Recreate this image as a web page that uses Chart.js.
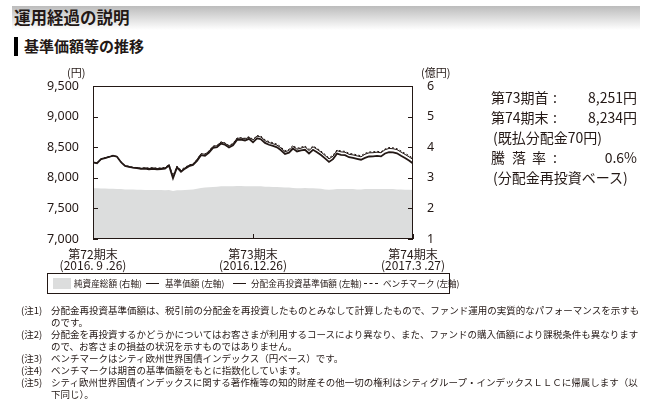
<!DOCTYPE html>
<html><head><meta charset="utf-8">
<script src="https://cdn.jsdelivr.net/npm/chart.js@4.4.1/dist/chart.umd.min.js"></script>
<style>
html,body{margin:0;padding:0;background:#fff;}
body{width:653px;height:408px;position:relative;overflow:hidden;font-family:"Noto Sans CJK JP","Noto Sans",sans-serif;color:#231815;}
.abs{position:absolute;white-space:nowrap;line-height:1;}
#titlebar{position:absolute;left:12px;top:6px;width:628px;height:24px;background:linear-gradient(to bottom,#bcbcbc,#ffffff);}
#title{left:14px;top:9px;font-size:16.5px;font-weight:bold;}
#subbar{position:absolute;left:14px;top:37px;width:4px;height:19px;background:#000;}
#subtitle{left:24px;top:38px;font-size:15px;font-weight:bold;}
#cv{position:absolute;left:0;top:0;}
.unit{font-size:11px;}
.rt{font-size:14px;}
#legend{position:absolute;left:47px;top:273px;width:401px;height:19px;border:1px solid #231815;}
.lg{font-size:8.6px;top:279px;}
.note{font-size:9.5px;}
</style></head>
<body>
<div id="titlebar"></div>
<div class="abs" id="title">運用経過の説明</div>
<div id="subbar"></div>
<div class="abs" id="subtitle">基準価額等の推移</div>
<canvas id="cv" width="653" height="408"></canvas>
<div class="abs unit" style="left:67px;top:67px;">(円)</div>
<div class="abs unit" style="left:421px;top:67px;">(億円)</div>

<div class="abs rt" style="left:491px;top:90px;">第73期首</div><div class="abs rt" style="left:553px;top:90px;">:</div><div class="abs rt" style="right:16px;top:90px;">8,251円</div>
<div class="abs rt" style="left:491px;top:110px;">第74期末</div><div class="abs rt" style="left:553px;top:110px;">:</div><div class="abs rt" style="right:16px;top:110px;">8,234円</div>
<div class="abs rt" style="left:493px;top:130px;">(既払分配金70円)</div>
<div class="abs rt" style="left:491px;top:150px;">騰</div><div class="abs rt" style="left:512px;top:150px;">落</div><div class="abs rt" style="left:532px;top:150px;">率</div><div class="abs rt" style="left:553px;top:150px;">:</div><div class="abs rt" style="right:16px;top:150px;">0.6%</div>
<div class="abs rt" style="left:493px;top:170px;">(分配金再投資ベース)</div>

<div id="legend"></div>
<div style="position:absolute;left:53px;top:278px;width:18px;height:11px;background:#dcdddd;"></div>
<div class="abs lg" style="left:74px;">純資産総額 (右軸)</div>
<div style="position:absolute;left:146px;top:283px;width:13px;height:1px;background:#231815;"></div>
<div class="abs lg" style="left:165px;">基準価額 (左軸)</div>
<div style="position:absolute;left:233px;top:283px;width:13px;height:1px;background:#231815;"></div>
<div class="abs lg" style="left:251px;">分配金再投資基準価額 (左軸)</div>
<div style="position:absolute;left:364px;top:283px;width:14px;height:0;border-top:1px dashed #231815;"></div>
<div class="abs lg" style="left:383px;">ベンチマーク (左軸)</div>

<div class="abs note" style="left:21px;top:306px;">(注1)</div>
<div class="abs note" style="left:51px;top:306px;">分配金再投資基準価額は、税引前の分配金を再投資したものとみなして計算したもので、ファンド運用の実質的なパフォーマンスを示すも</div>
<div class="abs note" style="left:51px;top:318px;">のです。</div>
<div class="abs note" style="left:21px;top:330px;">(注2)</div>
<div class="abs note" style="left:51px;top:330px;">分配金を再投資するかどうかについてはお客さまが利用するコースにより異なり、また、ファンドの購入価額により課税条件も異なります</div>
<div class="abs note" style="left:51px;top:342px;">ので、お客さまの損益の状況を示すものではありません。</div>
<div class="abs note" style="left:21px;top:354px;">(注3)</div>
<div class="abs note" style="left:51px;top:354px;">ベンチマークはシティ欧州世界国債インデックス（円ベース）です。</div>
<div class="abs note" style="left:21px;top:366px;">(注4)</div>
<div class="abs note" style="left:51px;top:366px;">ベンチマークは期首の基準価額をもとに指数化しています。</div>
<div class="abs note" style="left:21px;top:378px;">(注5)</div>
<div class="abs note" style="left:51px;top:378px;">シティ欧州世界国債インデックスに関する著作権等の知的財産その他一切の権利はシティグループ・インデックスＬＬＣに帰属します（以</div>
<div class="abs note" style="left:51px;top:390px;">下同じ）。</div>

<script>
// ---- data ----
const periodLabels = [['第72期末','(2016. 9 .26)'], ['第73期末','(2016.12.26)'], ['第74期末','(2017.3 .27)']];
const periodIndex = [0, 40, 80];
const leftTicks = [7000, 7500, 8000, 8500, 9000, 9500];
const rightTicks = [1, 2, 3, 4, 5, 6];

const navPrice = [
8251,8238,8305,8322,8340,8362,8345,8255,8195,8180,
8165,8160,8148,8150,8140,8148,8138,8144,8150,8200,
7992,8170,8100,8150,8190,8210,8275,8370,8360,8410,
8490,8500,8560,8540,8495,8530,8620,8625,8610,8637,
8580,8645,8630,8570,8540,8520,8498,8450,8390,8410,
8478,8430,8448,8458,8398,8458,8418,8372,8318,8260,
8305,8395,8376,8370,8336,8326,8310,8295,8325,8348,
8350,8358,8350,8398,8420,8415,8400,8360,8322,8282,
8234];
const reinvested = [
8251,8238,8305,8322,8340,8362,8345,8255,8195,8180,
8165,8160,8148,8162,8152,8160,8150,8156,8162,8212,
8004,8182,8112,8162,8202,8222,8299,8394,8384,8434,
8514,8524,8584,8564,8519,8554,8644,8649,8634,8661,
8616,8681,8666,8606,8576,8556,8534,8486,8426,8446,
8514,8466,8484,8506,8446,8506,8466,8420,8366,8308,
8353,8443,8424,8418,8384,8374,8358,8343,8385,8408,
8410,8418,8410,8458,8480,8475,8460,8420,8382,8342,
8301];
const benchmark = [
8251,8245,8298,8330,8345,8358,8350,8262,8200,8188,
8170,8168,8155,8166,8160,8168,8158,8162,8170,8215,
8040,8190,8130,8172,8210,8228,8300,8390,8388,8440,
8515,8530,8588,8570,8528,8562,8650,8655,8645,8672,
8628,8690,8680,8620,8592,8572,8550,8502,8442,8465,
8530,8482,8500,8520,8462,8520,8482,8436,8382,8325,
8370,8455,8438,8432,8400,8390,8374,8360,8400,8422,
8425,8432,8425,8470,8495,8490,8475,8438,8400,8362,
8318];
const netAssets = [
2.66,2.66,2.65,2.65,2.64,2.64,2.63,2.63,2.62,2.62,
2.62,2.61,2.61,2.60,2.60,2.60,2.60,2.60,2.59,2.60,
2.57,2.59,2.59,2.60,2.61,2.62,2.64,2.67,2.68,2.69,
2.70,2.71,2.72,2.72,2.72,2.72,2.73,2.73,2.72,2.72,
2.72,2.72,2.72,2.71,2.71,2.70,2.70,2.69,2.68,2.68,
2.67,2.66,2.66,2.67,2.66,2.66,2.65,2.64,2.62,2.61,
2.62,2.63,2.63,2.63,2.63,2.63,2.62,2.62,2.63,2.63,
2.63,2.63,2.63,2.63,2.63,2.63,2.62,2.62,2.61,2.61,
2.60];

const ink = '#231815';
const toXY = arr => arr.map((v, i) => ({x: i, y: v}));

const framePlugin = {
  id: 'frame',
  afterDraw(chart) {
    const {ctx, chartArea: a, scales} = chart;
    ctx.save();
    ctx.strokeStyle = ink;
    ctx.lineWidth = 1;
    ctx.strokeRect(Math.round(a.left) + 0.5, Math.round(a.top) + 0.5, Math.round(a.right - a.left) - 1, Math.round(a.bottom - a.top) - 1);
    ctx.beginPath();
    leftTicks.forEach(v => { const y = Math.round(scales.y.getPixelForValue(v)) + 0.5; ctx.moveTo(a.left, y); ctx.lineTo(a.left + 5, y); });
    rightTicks.forEach(v => { const y = Math.round(scales.y2.getPixelForValue(v)) + 0.5; ctx.moveTo(a.right, y); ctx.lineTo(a.right - 5, y); });
    periodIndex.forEach(v => { const x = Math.round(scales.x.getPixelForValue(v)) + 0.5; ctx.moveTo(x, a.bottom); ctx.lineTo(x, a.bottom - 5); });
    ctx.stroke();
    ctx.restore();
  }
};

new Chart(document.getElementById('cv'), {
  type: 'line',
  data: {
    datasets: [
      {label: '基準価額', data: toXY(navPrice), yAxisID: 'y', borderColor: ink, borderWidth: 1.8, pointRadius: 0, tension: 0, order: 1},
      {label: '分配金再投資基準価額', data: toXY(reinvested), yAxisID: 'y', borderColor: ink, borderWidth: 1, pointRadius: 0, tension: 0, order: 2},
      {label: 'ベンチマーク', data: toXY(benchmark), yAxisID: 'y', borderColor: ink, borderWidth: 1, borderDash: [2, 2], pointRadius: 0, tension: 0, order: 3},
      {label: '純資産総額', data: toXY(netAssets), yAxisID: 'y2', borderColor: '#dcdddd', borderWidth: 0, backgroundColor: '#dcdddd', fill: 'start', pointRadius: 0, tension: 0, order: 10}
    ]
  },
  options: {
    responsive: false, animation: false, devicePixelRatio: 1,
    layout: {padding: {left: 40, right: 200, top: 86, bottom: 124}},
    plugins: {legend: {display: false}, tooltip: {enabled: false}},
    scales: {
      x: {
        type: 'linear', min: 0, max: 80,
        afterBuildTicks: s => { s.ticks = periodIndex.map(v => ({value: v})); },
        afterFit: s => { s.height = 45; },
        grid: {display: false}, border: {display: false},
        ticks: {autoSkip: false, maxRotation: 0, padding: 2, color: ink,
          font: {family: '"Noto Sans CJK JP"', size: 12, lineHeight: 0.9},
          callback: v => periodLabels[periodIndex.indexOf(v)]}
      },
      y: {
        position: 'left', min: 7000, max: 9500,
        afterBuildTicks: s => { s.ticks = leftTicks.map(v => ({value: v})); },
        afterFit: s => { s.width = 53; },
        grid: {display: false}, border: {display: false},
        ticks: {padding: 6, color: ink, font: {family: '"Noto Sans"', size: 12.5},
          callback: v => v.toLocaleString('en-US')}
      },
      y2: {
        position: 'right', min: 1, max: 6,
        afterBuildTicks: s => { s.ticks = rightTicks.map(v => ({value: v})); },
        afterFit: s => { s.width = 40; },
        grid: {display: false}, border: {display: false},
        ticks: {padding: 6, color: ink, font: {family: '"Noto Sans"', size: 12.5}}
      }
    }
  },
  plugins: [framePlugin]
});
</script>
</body></html>
